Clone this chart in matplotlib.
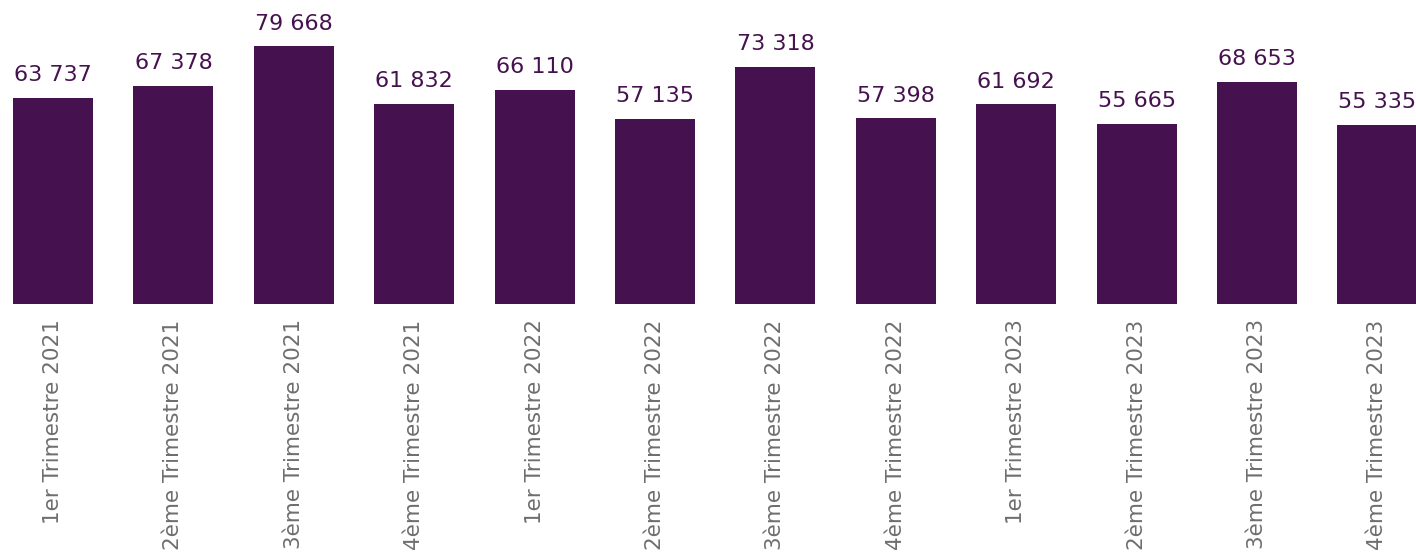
import matplotlib
matplotlib.use("Agg")
import matplotlib.pyplot as plt

categories = ["1er Trimestre 2021", "2ème Trimestre 2021", "3ème Trimestre 2021", "4ème Trimestre 2021",
              "1er Trimestre 2022", "2ème Trimestre 2022", "3ème Trimestre 2022", "4ème Trimestre 2022",
              "1er Trimestre 2023", "2ème Trimestre 2023", "3ème Trimestre 2023", "4ème Trimestre 2023"]
values = [63737, 67378, 79668, 61832, 66110, 57135, 73318, 57398, 61692, 55665, 68653, 55335]

BAR = "#46114F"
GREY = "#6E6E6E"

plt.rcParams['font.family'] = ['DejaVu Sans']
fig = plt.figure(figsize=(14.16, 5.53), dpi=100)
ax = fig.add_axes([0, 249/553, 1, 304/553])
x = list(range(len(values)))
bars = ax.bar(x, values, width=0.665, color=BAR)
for xi, v in zip(x, values):
    ax.annotate(f"{v:,}".replace(",", " "), (xi, v), xytext=(0, 9), textcoords="offset points",
                ha="center", va="bottom", fontsize=16, color=BAR)
ax.set_xlim(-0.44, 11.32)
ax.set_ylim(0, 93873)
ax.set_xticks(x)
ax.set_xticklabels(categories, rotation=90, fontsize=15.5, color=GREY, va="top", ha="center")
ax.tick_params(axis="x", length=0, pad=11)
ax.set_yticks([])
for s in ax.spines.values():
    s.set_visible(False)
fig.savefig("out.png", dpi=100)
